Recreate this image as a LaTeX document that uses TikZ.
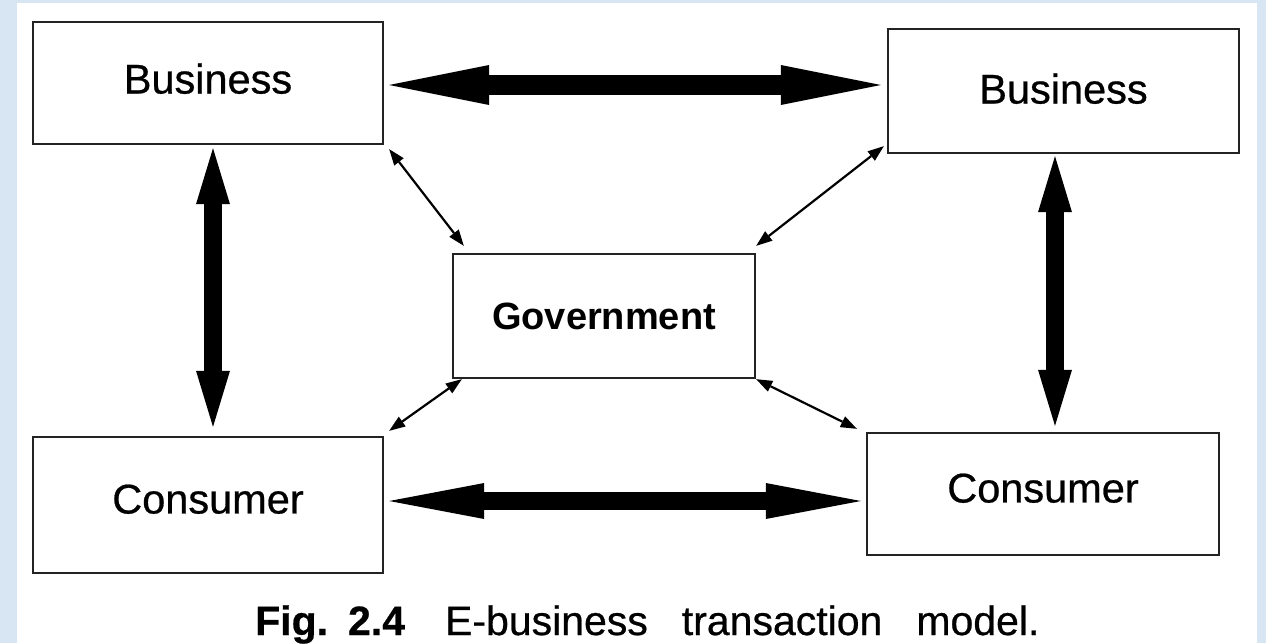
\documentclass[tikz,border=0pt]{standalone}
\usepackage{fontspec}
\setmainfont{Liberation Sans}
\newfontfamily\heavysans[FakeBold=0.6]{Liberation Sans}
\usetikzlibrary{arrows.meta}
\definecolor{frameblue}{RGB}{216,229,243}
\definecolor{boxline}{RGB}{35,35,35}
\tikzset{
  box/.style={draw=boxline, line width=2.4pt, fill=white, inner sep=0pt,
    font=\fontsize{41.5}{48}\heavysans},
  govbox/.style={box, font=\fontsize{38}{46}\selectfont\bfseries},
  bigh/.style={line width=20pt, {Triangle[length=100pt,width=40pt,line width=0pt]}-{Triangle[length=100pt,width=40pt,line width=0pt]}},
  bighlow/.style={line width=18pt, {Triangle[length=95pt,width=36pt,line width=0pt]}-{Triangle[length=95pt,width=36pt,line width=0pt]}},
  bigv/.style={line width=18pt, {Triangle[length=56pt,width=34pt,line width=0pt]}-{Triangle[length=56pt,width=34pt,line width=0pt]}},
  thin/.style={line width=2.2pt, {Triangle[length=16pt,width=12pt,line width=0pt]}-{Triangle[length=16pt,width=12pt,line width=0pt]}},
  caption/.style={font=\fontsize{41}{46}\heavysans, inner sep=0pt, anchor=base west}
}
\begin{document}
\begin{tikzpicture}[x=1pt,y=-1pt]
  \fill[frameblue] (0,0) rectangle (1266,643);
  \fill[white] (17,3) rectangle (1257,643);
  \useasboundingbox (0,0) rectangle (1266,643);

  \node[box, minimum width=350pt, minimum height=122pt, text depth=9pt] (bTL) at (208,83) {Business};
  \node[box, minimum width=351pt, minimum height=124pt, text depth=5pt] (bTR) at (1063.5,91) {Business};
  \node[govbox, minimum width=302pt, minimum height=124pt] (gov) at (604,316) {Government};
  \node[box, minimum width=350pt, minimum height=136pt, text depth=12pt] (cBL) at (208,505) {Consumer};
  \node[box, minimum width=352pt, minimum height=122pt, text depth=12pt] (cBR) at (1043,494) {Consumer};

  \coordinate (ytop) at (0,85);
  % thick arrows
  \draw[bigh] ([xshift=5pt]bTL.east |- ytop) -- ([xshift=-6pt]bTR.west |- ytop);
  \draw[bighlow] ([xshift=5pt,yshift=4pt]cBL.east) -- ([xshift=-5pt,yshift=-7pt]cBR.west);
  \draw[bigv] ([xshift=5pt,yshift=-3pt]bTL.south) -- ([xshift=5pt,yshift=9pt]cBL.north);
  \draw[bigv] ([xshift=-8.5pt,yshift=-2pt]bTR.south) -- ([xshift=12pt,yshift=6pt]cBR.north);

  % thin arrows
  \draw[thin] ([xshift=5pt,yshift=-4pt]bTL.south east) -- ([xshift=12pt,yshift=7pt]gov.north west);
  \draw[thin] ([xshift=-3pt,yshift=8pt]bTR.south west) -- ([yshift=7pt]gov.north east);
  \draw[thin] ([xshift=10pt]gov.south west) -- ([xshift=5pt,yshift=5pt]cBL.north east);
  \draw[thin] (gov.south east) -- ([xshift=-9pt,yshift=3pt]cBR.north west);

  \node[caption] (cap) at (255,635) {{\bfseries Fig.\hspace{20pt}2.4}\hspace{40pt}E-business\hspace{34pt}transaction\hspace{34pt}model.};
\end{tikzpicture}
\end{document}
